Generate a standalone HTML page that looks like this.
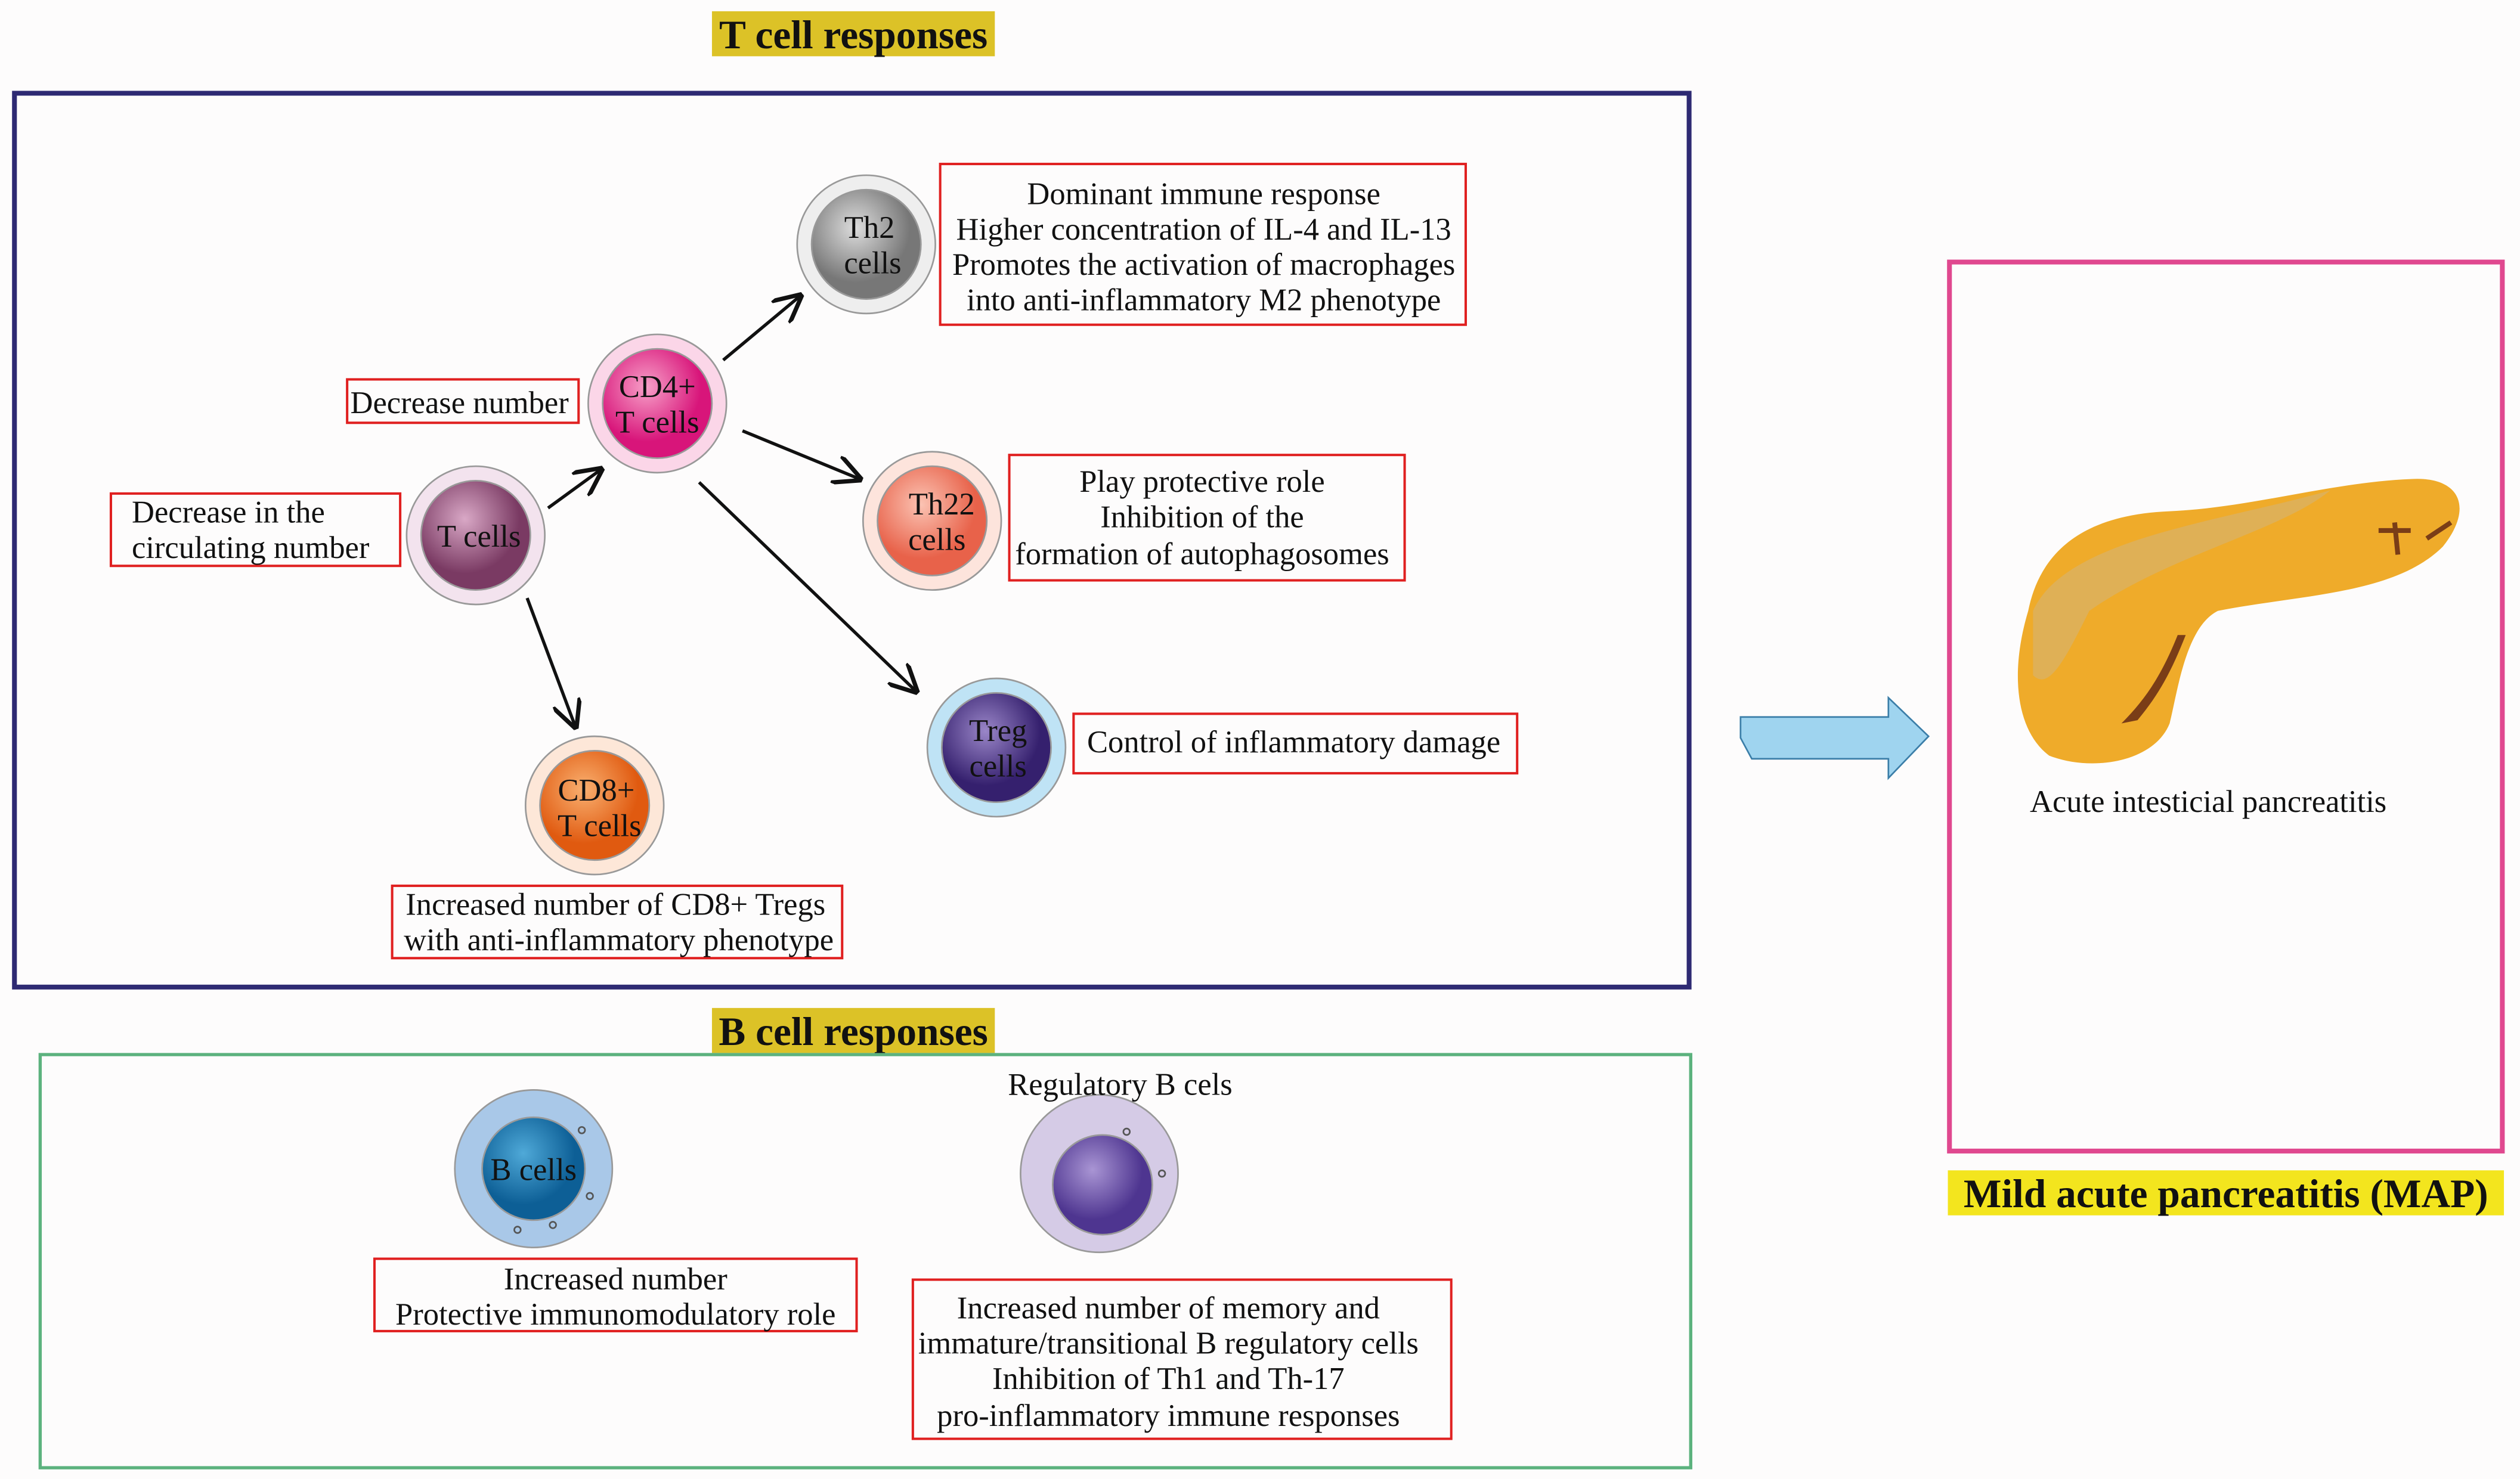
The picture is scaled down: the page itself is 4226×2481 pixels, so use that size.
<!DOCTYPE html>
<html><head><meta charset="utf-8"><style>
html,body{margin:0;padding:0;background:#fdfcfc;}
svg{display:block;}
svg text{font-family:"Liberation Serif","Times New Roman",Times,serif;font-size:19.5px;fill:#111;}
svg text.b{font-weight:bold;font-size:25px;}
</style></head><body>
<svg width="4226" height="2481" viewBox="0 0 1568 920" preserveAspectRatio="none" xmlns="http://www.w3.org/2000/svg" font-family="Liberation Serif, serif">
<defs>
<marker id="ar" viewBox="0 0 10 10" refX="9" refY="5" markerWidth="9" markerHeight="9" orient="auto"><path d="M0,0 L10,5 L0,10" fill="none" stroke="#111" stroke-width="1.5"/></marker>
<radialGradient id="gT" cx="40%" cy="35%"><stop offset="0" stop-color="#d9a8c6"/><stop offset="1" stop-color="#7a3a63"/></radialGradient>
<radialGradient id="gCD4" cx="40%" cy="35%"><stop offset="0" stop-color="#f7a0c8"/><stop offset="1" stop-color="#d8157a"/></radialGradient>
<radialGradient id="gTh2" cx="40%" cy="35%"><stop offset="0" stop-color="#ddd"/><stop offset="1" stop-color="#777"/></radialGradient>
<radialGradient id="gTh22" cx="40%" cy="35%"><stop offset="0" stop-color="#fbc3b3"/><stop offset="1" stop-color="#e8624a"/></radialGradient>
<radialGradient id="gTreg" cx="40%" cy="35%"><stop offset="0" stop-color="#9a86c8"/><stop offset="1" stop-color="#35206e"/></radialGradient>
<radialGradient id="gCD8" cx="40%" cy="35%"><stop offset="0" stop-color="#f9b070"/><stop offset="1" stop-color="#e05a10"/></radialGradient>
<radialGradient id="gB" cx="40%" cy="35%"><stop offset="0" stop-color="#4fa9d8"/><stop offset="1" stop-color="#0d5f96"/></radialGradient>
<radialGradient id="gR" cx="40%" cy="35%"><stop offset="0" stop-color="#a995d4"/><stop offset="1" stop-color="#4e3590"/></radialGradient>
</defs>
<rect x="443" y="7" width="176" height="28" fill="#dcc227"/>
<text x="531" y="30" text-anchor="middle" class="b">T cell responses</text>
<rect x="9" y="58" width="1042" height="556" fill="none" stroke="#2e2a73" stroke-width="3"/>
<rect x="443" y="627" width="176" height="28" fill="#dcc227"/>
<text x="531" y="650" text-anchor="middle" class="b">B cell responses</text>
<rect x="25" y="656" width="1027" height="257" fill="none" stroke="#5cb27e" stroke-width="2"/>
<rect x="1213" y="163" width="344" height="553" fill="none" stroke="#e0488f" stroke-width="3"/>
<rect x="1212" y="728" width="346" height="28" fill="#f3e51e"/>
<text x="1385" y="751" text-anchor="middle" class="b">Mild acute pancreatitis (MAP)</text>
<text x="1374" y="505" text-anchor="middle">Acute intesticial pancreatitis</text>
<path d="M1262,380 C1270,340 1300,320 1350,318 C1400,316 1450,300 1500,298 C1530,296 1540,315 1520,340 C1490,370 1430,370 1380,380 C1360,390 1355,430 1350,450 C1340,475 1300,480 1275,470 C1255,455 1250,420 1262,380 Z" fill="#efab2a"/>
<path d="M1265,380 C1285,335 1380,325 1450,305 C1420,330 1350,345 1300,380 C1285,410 1275,430 1265,420 Z" fill="#d9b26a" opacity="0.7"/>
<path d="M1355,395 C1345,420 1335,435 1320,450 L1330,448 C1345,430 1352,415 1360,395 Z" fill="#7a3d17"/>
<path d="M1480,330 L1500,330 M1490,325 L1492,345 M1510,335 L1525,325" stroke="#7a3d17" stroke-width="3"/>
<path d="M1083,446 L1175,446 L1175,434 L1200,458 L1175,484 L1175,472 L1090,472 L1083,459 Z" fill="#9fd4ef" stroke="#3b7ea8" stroke-width="1"/>
<g stroke="#111" stroke-width="2" fill="none" marker-end="url(#ar)">
<line x1="341" y1="316" x2="374" y2="292"/>
<line x1="450" y1="224" x2="498" y2="184"/>
<line x1="462" y1="268" x2="535" y2="298"/>
<line x1="435" y1="300" x2="570" y2="430"/>
<line x1="328" y1="372" x2="358" y2="452"/>
</g>
<g stroke="#999" stroke-width="1">
<circle cx="296" cy="333" r="43" fill="#f3e3ee"/><circle cx="296" cy="333" r="34" fill="url(#gT)"/>
<circle cx="409" cy="251" r="43" fill="#fbd6e8"/><circle cx="409" cy="251" r="34" fill="url(#gCD4)"/>
<circle cx="539" cy="152" r="43" fill="#eee"/><circle cx="539" cy="152" r="34" fill="url(#gTh2)"/>
<circle cx="580" cy="324" r="43" fill="#fde4dc"/><circle cx="580" cy="324" r="34" fill="url(#gTh22)"/>
<circle cx="620" cy="465" r="43" fill="#bfe3f5"/><circle cx="620" cy="465" r="34" fill="url(#gTreg)"/>
<circle cx="370" cy="501" r="43" fill="#fde7d8"/><circle cx="370" cy="501" r="34" fill="url(#gCD8)"/>
<circle cx="332" cy="727" r="49" fill="#a9c8e8"/><circle cx="332" cy="727" r="32" fill="url(#gB)"/>
<circle cx="684" cy="730" r="49" fill="#d5cbe6"/><circle cx="686" cy="737" r="31" fill="url(#gR)"/>
</g>
<g fill="none" stroke="#555" stroke-width="1"><circle cx="362" cy="703" r="2"/><circle cx="367" cy="744" r="2"/><circle cx="322" cy="765" r="2"/><circle cx="344" cy="762" r="2"/><circle cx="701" cy="704" r="2"/><circle cx="723" cy="730" r="2"/></g>
<g text-anchor="middle">
<text x="298" y="340">T cells</text>
<text x="409" y="247">CD4+</text><text x="409" y="269">T cells</text>
<text x="541" y="148">Th2</text><text x="543" y="170">cells</text>
<text x="586" y="320">Th22</text><text x="583" y="342">cells</text>
<text x="621" y="461">Treg</text><text x="621" y="483">cells</text>
<text x="371" y="498">CD8+</text><text x="373" y="520">T cells</text>
<text x="332" y="734">B cells</text>
<text x="697" y="681">Regulatory B cels</text>
</g>
<g fill="none" stroke="#e02020" stroke-width="1.5">
<rect x="69" y="307" width="180" height="45"/>
<rect x="216" y="236" width="144" height="27"/>
<rect x="585" y="102" width="327" height="100"/>
<rect x="628" y="283" width="246" height="78"/>
<rect x="668" y="444" width="276" height="37"/>
<rect x="244" y="551" width="280" height="45"/>
<rect x="233" y="783" width="300" height="45"/>
<rect x="568" y="796" width="335" height="99"/>
</g>
<text x="82" y="325">Decrease in the</text><text x="82" y="347">circulating number</text>
<text x="218" y="257">Decrease number</text>
<g text-anchor="middle">
<text x="749" y="127">Dominant immune response</text>
<text x="749" y="149">Higher concentration of IL-4 and IL-13</text>
<text x="749" y="171">Promotes the activation of macrophages</text>
<text x="749" y="193">into anti-inflammatory M2 phenotype</text>
<text x="748" y="306">Play protective role</text>
<text x="748" y="328">Inhibition of the</text>
<text x="748" y="351">formation of autophagosomes</text>
<text x="805" y="468">Control of inflammatory damage</text>
<text x="383" y="569">Increased number of CD8+ Tregs</text>
<text x="385" y="591">with anti-inflammatory phenotype</text>
<text x="383" y="802">Increased number</text>
<text x="383" y="824">Protective immunomodulatory role</text>
<text x="727" y="820">Increased number of memory and</text>
<text x="727" y="842">immature/transitional B regulatory cells</text>
<text x="727" y="864">Inhibition of Th1 and Th-17</text>
<text x="727" y="887">pro-inflammatory immune responses</text>
</g>
</svg>
</body></html>
